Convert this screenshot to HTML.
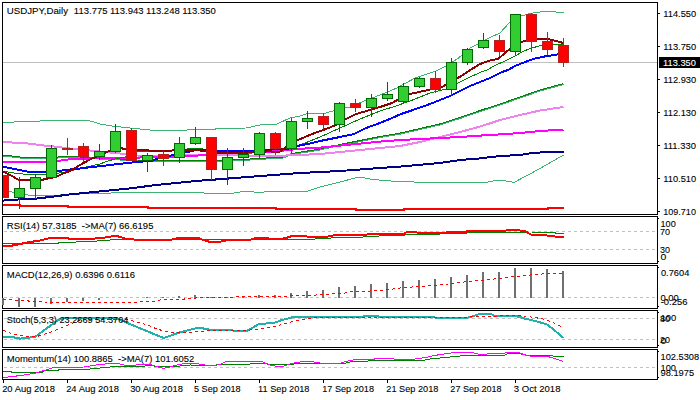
<!DOCTYPE html>
<html><head><meta charset="utf-8"><title>USDJPY Daily</title>
<style>
html,body{margin:0;padding:0;background:#fff;}
body{width:700px;height:400px;overflow:hidden;position:relative;font-family:"Liberation Sans",sans-serif;}
svg text{font-family:"Liberation Sans",sans-serif;}
</style></head><body>
<svg width="700" height="400" viewBox="0 0 700 400" style="position:absolute;left:0;top:0" shape-rendering="crispEdges">
<rect width="700" height="400" fill="#fff"/>
<defs><clipPath id="cm"><rect x="3" y="3" width="654.5" height="211"/></clipPath></defs>
<g clip-path="url(#cm)">
<line x1="3" x2="657" y1="62.5" y2="62.5" stroke="#c0c0c0" stroke-width="1"/>
<polyline points="3.0,122.4 20.0,121.8 40.0,121.0 58.0,120.0 86.0,120.0 92.0,121.5 100.0,124.0 112.0,126.0 125.0,127.5 140.0,129.0 160.0,131.0 182.0,130.6 196.0,129.0 206.0,129.6 222.0,128.6 246.0,128.0 260.0,125.0 276.0,124.4 290.0,118.0 300.0,116.0 307.0,113.6 325.0,113.4 331.0,111.5 336.0,110.0 345.0,107.5 350.0,107.5 356.0,104.5 364.0,101.0 380.0,95.0 398.0,87.6 404.0,84.0 416.0,77.6 436.0,71.0 446.0,66.0 458.0,58.4 470.0,48.0 478.0,44.0 484.0,40.5 490.0,37.5 500.0,33.0 510.0,22.0 521.0,15.5 525.0,15.0 529.0,13.7 535.0,12.7 543.0,11.5 555.0,11.5 557.0,12.5 563.5,12.5" fill="none" stroke="#3cb371" stroke-width="1" />
<polyline points="3.0,187.0 9.0,191.4 14.0,192.5 25.0,194.4 30.0,195.5 50.0,195.5 80.0,194.0 130.0,192.4 202.0,192.4 206.0,193.6 230.0,193.6 240.0,192.0 250.0,191.6 258.0,192.4 270.0,191.6 300.0,192.0 308.0,191.0 320.0,187.0 340.0,182.0 355.0,178.0 362.0,177.4 370.0,179.0 385.0,180.6 400.0,181.6 420.0,182.2 440.0,182.4 486.0,182.4 496.0,180.4 504.0,180.6 514.0,182.4 530.0,174.0 546.0,165.0 563.5,155.0" fill="none" stroke="#3cb371" stroke-width="1" />
<polyline points="3.0,205.0 19.5,205.0 19.5,206.0 67.5,206.0 67.5,207.0 147.5,207.0 147.5,208.0 275.5,208.0 275.5,209.0 355.5,209.0 355.5,210.0 403.5,210.0 403.5,209.0 547.5,209.0 547.5,208.0 564.0,208.0" fill="none" stroke="#ff0000" stroke-width="2" />
<polyline points="3.0,200.6 10.0,200.0 20.0,199.4 36.0,198.6 50.0,197.0 70.0,194.4 90.0,192.4 110.0,190.4 130.0,188.4 156.0,185.0 196.0,181.0 230.0,178.4 260.0,176.0 300.0,173.0 340.0,171.0 380.0,168.0 400.0,166.6 420.0,164.8 440.0,163.0 460.0,160.0 480.0,158.4 500.0,156.0 520.0,155.0 532.0,153.0 548.0,152.0 563.5,152.0" fill="none" stroke="#00008b" stroke-width="2" />
<polyline points="3.0,156.0 12.0,156.5 20.0,157.5 28.0,158.0 46.0,158.0 58.0,157.5 68.0,156.5 80.0,157.5 100.0,158.5 120.0,159.5 137.0,160.5 155.0,161.0 200.0,161.0 230.0,160.5 250.0,159.5 283.0,157.5 292.0,154.0 320.0,149.5 340.0,145.0 360.0,141.0 380.0,137.0 400.0,133.6 420.0,129.0 440.0,124.4 460.0,118.0 480.0,111.0 500.0,104.5 520.0,97.5 540.0,90.5 563.5,84.0" fill="none" stroke="#3cb371" stroke-width="2" />
<polyline points="3.0,155.5 12.0,156.0 20.0,157.0 28.0,157.5 46.0,157.5 58.0,157.0 68.0,156.0 80.0,157.0 100.0,158.0 120.0,159.0 137.0,160.0 155.0,160.5 200.0,160.5 230.0,160.0 250.0,159.0 283.0,157.0 292.0,153.5 320.0,149.0 340.0,144.5 360.0,140.5 380.0,136.5 400.0,133.1 420.0,128.5 440.0,123.9 460.0,117.5 480.0,110.5 500.0,104.0 520.0,97.0 540.0,90.0 563.5,83.5" fill="none" stroke="#008000" stroke-width="1" />
<polyline points="3.0,142.0 20.0,143.0 28.0,143.5 36.0,144.5 44.0,145.5 50.0,146.0 70.0,148.5 90.0,150.5 110.0,152.5 125.0,154.0 137.0,155.5 174.0,156.0 185.0,155.0 200.0,155.3 217.0,155.2 240.0,155.3 244.0,156.0 270.0,156.0 290.0,155.4 320.0,154.0 340.0,152.0 360.0,150.0 380.0,148.0 400.0,146.0 420.0,142.0 440.0,137.0 460.0,132.0 480.0,126.6 500.0,120.0 520.0,115.0 540.0,110.5 563.5,107.0" fill="none" stroke="#ee82ee" stroke-width="2" />
<polyline points="3.0,162.0 46.0,162.0 58.0,161.0 68.0,159.5 90.0,158.5 120.0,157.5 140.0,157.5 174.0,157.0 190.0,156.3 200.0,155.3 206.0,154.5 217.0,153.3 250.0,152.6 270.0,151.6 280.0,151.0 297.0,149.0 320.0,147.6 340.0,145.6 360.0,143.6 380.0,141.6 400.0,140.0 420.0,139.0 440.0,138.0 460.0,137.0 480.0,135.6 500.0,134.4 520.0,133.0 540.0,131.0 563.5,129.6" fill="none" stroke="#ff00ff" stroke-width="2" />
<polyline points="3.0,171.0 10.0,172.4 20.0,173.8 30.0,174.4 46.0,174.4 57.0,173.5 62.0,172.5 70.0,171.0 86.0,167.0 100.0,164.0 106.0,161.6 115.0,159.0 125.0,157.0 137.0,152.0 145.0,151.5 160.0,151.0 180.0,150.0 191.0,148.5 200.0,148.5 206.0,149.5 217.0,151.0 252.0,151.0 256.0,150.3 270.0,149.8 285.0,148.5 298.0,145.8 320.0,137.0 340.0,128.0 360.0,119.0 380.0,111.0 396.0,106.0 410.0,101.0 430.0,93.0 446.0,89.0 458.0,83.0 470.0,77.0 480.0,72.5 487.0,70.0 495.0,65.5 505.0,61.0 515.0,56.0 521.0,52.5 530.0,48.5 540.0,45.8 552.0,44.4 563.5,45.0" fill="none" stroke="#008000" stroke-width="1" />
<polyline points="3.0,166.6 14.0,169.0 28.0,171.7 36.0,172.0 46.0,172.0 57.0,171.0 64.0,170.3 70.0,169.5 80.0,168.5 97.0,166.5 110.0,165.0 118.0,164.0 130.0,162.7 140.0,161.7 152.0,161.0 155.0,159.5 158.0,158.5 170.0,156.0 174.0,154.5 185.0,152.5 190.0,151.5 196.0,150.0 206.0,150.5 217.0,151.0 252.0,151.0 256.0,150.3 270.0,149.5 286.0,149.3 297.0,146.0 310.0,143.5 320.0,141.0 340.0,137.0 354.0,134.0 366.0,128.0 380.0,123.0 392.0,118.0 400.0,114.4 410.0,111.0 430.0,104.0 450.0,96.0 470.0,86.0 490.0,78.0 502.0,72.0 508.0,70.0 515.0,66.0 525.0,62.0 535.0,58.5 544.0,56.6 558.0,54.4 563.5,54.0" fill="none" stroke="#0000ff" stroke-width="2" />
<polyline points="3.0,171.5 8.0,174.0 12.0,176.0 16.0,178.5 19.0,180.0 41.0,180.0 46.0,179.0 57.0,176.5 62.0,174.0 70.0,171.0 80.0,165.0 90.0,159.5 100.0,155.0 110.0,150.5 120.0,148.0 125.0,149.0 137.0,150.0 148.0,150.0 150.0,151.0 171.0,151.0 173.0,150.0 200.0,150.5 206.0,151.0 217.0,152.8 245.0,153.0 250.0,152.2 254.0,151.5 265.0,151.7 268.0,151.0 275.0,152.0 280.0,151.5 286.0,147.0 298.0,140.0 312.0,134.0 326.0,129.0 336.0,125.0 346.0,119.0 356.0,114.0 368.0,110.6 380.0,107.0 392.0,103.0 400.0,98.5 410.0,94.0 430.0,89.6 442.0,87.0 458.0,78.0 472.0,69.0 480.0,64.0 490.0,60.5 498.0,59.0 505.0,53.0 510.0,49.0 521.0,42.0 526.0,40.5 537.0,39.0 542.0,38.6 548.0,39.0 563.5,43.0" fill="none" stroke="#8b0000" stroke-width="2" />
<line x1="3.5" x2="3.5" y1="175.0" y2="198.0" stroke="#b22222" stroke-width="1"/>
<rect x="-1.50" y="175.50" width="10.00" height="22.00" fill="#ff0000" stroke="#b22222" stroke-width="1"/>
<line x1="19.5" x2="19.5" y1="177.0" y2="209.0" stroke="#006800" stroke-width="1"/>
<rect x="14.50" y="188.50" width="10.00" height="9.00" fill="#32cd32" stroke="#006800" stroke-width="1"/>
<line x1="35.5" x2="35.5" y1="174.0" y2="199.0" stroke="#006800" stroke-width="1"/>
<rect x="30.50" y="177.50" width="10.00" height="11.00" fill="#32cd32" stroke="#006800" stroke-width="1"/>
<line x1="51.5" x2="51.5" y1="145.0" y2="178.0" stroke="#006800" stroke-width="1"/>
<rect x="46.50" y="148.50" width="10.00" height="29.00" fill="#32cd32" stroke="#006800" stroke-width="1"/>
<line x1="67.5" x2="67.5" y1="138.0" y2="155.0" stroke="#b22222" stroke-width="1"/>
<rect x="62.0" y="148.0" width="11" height="2" fill="#b22222"/>
<line x1="83.5" x2="83.5" y1="143.0" y2="162.0" stroke="#b22222" stroke-width="1"/>
<rect x="78.50" y="146.50" width="10.00" height="10.00" fill="#ff0000" stroke="#b22222" stroke-width="1"/>
<line x1="99.5" x2="99.5" y1="144.0" y2="160.0" stroke="#006800" stroke-width="1"/>
<rect x="94.50" y="151.50" width="10.00" height="5.00" fill="#32cd32" stroke="#006800" stroke-width="1"/>
<line x1="115.5" x2="115.5" y1="124.0" y2="153.0" stroke="#006800" stroke-width="1"/>
<rect x="110.50" y="131.50" width="10.00" height="20.00" fill="#32cd32" stroke="#006800" stroke-width="1"/>
<line x1="131.5" x2="131.5" y1="128.0" y2="161.0" stroke="#b22222" stroke-width="1"/>
<rect x="126.50" y="130.50" width="10.00" height="30.00" fill="#ff0000" stroke="#b22222" stroke-width="1"/>
<line x1="147.5" x2="147.5" y1="153.0" y2="172.0" stroke="#006800" stroke-width="1"/>
<rect x="142.50" y="155.50" width="10.00" height="5.00" fill="#32cd32" stroke="#006800" stroke-width="1"/>
<line x1="163.5" x2="163.5" y1="151.0" y2="166.0" stroke="#b22222" stroke-width="1"/>
<rect x="158.50" y="154.50" width="10.00" height="4.00" fill="#ff0000" stroke="#b22222" stroke-width="1"/>
<line x1="179.5" x2="179.5" y1="137.0" y2="163.0" stroke="#006800" stroke-width="1"/>
<rect x="174.50" y="143.50" width="10.00" height="14.00" fill="#32cd32" stroke="#006800" stroke-width="1"/>
<line x1="195.5" x2="195.5" y1="127.0" y2="145.0" stroke="#006800" stroke-width="1"/>
<rect x="190.50" y="137.50" width="10.00" height="6.00" fill="#32cd32" stroke="#006800" stroke-width="1"/>
<line x1="211.5" x2="211.5" y1="137.0" y2="180.0" stroke="#b22222" stroke-width="1"/>
<rect x="206.50" y="137.50" width="10.00" height="32.00" fill="#ff0000" stroke="#b22222" stroke-width="1"/>
<line x1="227.5" x2="227.5" y1="148.0" y2="185.0" stroke="#006800" stroke-width="1"/>
<rect x="222.50" y="157.50" width="10.00" height="12.00" fill="#32cd32" stroke="#006800" stroke-width="1"/>
<line x1="243.5" x2="243.5" y1="148.0" y2="166.0" stroke="#006800" stroke-width="1"/>
<rect x="238.50" y="154.50" width="10.00" height="3.00" fill="#32cd32" stroke="#006800" stroke-width="1"/>
<line x1="259.5" x2="259.5" y1="132.0" y2="158.0" stroke="#006800" stroke-width="1"/>
<rect x="254.50" y="133.50" width="10.00" height="21.00" fill="#32cd32" stroke="#006800" stroke-width="1"/>
<line x1="275.5" x2="275.5" y1="132.0" y2="155.0" stroke="#b22222" stroke-width="1"/>
<rect x="270.50" y="133.50" width="10.00" height="15.00" fill="#ff0000" stroke="#b22222" stroke-width="1"/>
<line x1="291.5" x2="291.5" y1="118.0" y2="153.0" stroke="#006800" stroke-width="1"/>
<rect x="286.50" y="121.50" width="10.00" height="27.00" fill="#32cd32" stroke="#006800" stroke-width="1"/>
<line x1="307.5" x2="307.5" y1="111.0" y2="129.0" stroke="#006800" stroke-width="1"/>
<rect x="302.50" y="118.50" width="10.00" height="3.00" fill="#32cd32" stroke="#006800" stroke-width="1"/>
<line x1="323.5" x2="323.5" y1="113.0" y2="129.0" stroke="#b22222" stroke-width="1"/>
<rect x="318.50" y="116.50" width="10.00" height="8.00" fill="#ff0000" stroke="#b22222" stroke-width="1"/>
<line x1="339.5" x2="339.5" y1="102.0" y2="132.0" stroke="#006800" stroke-width="1"/>
<rect x="334.50" y="103.50" width="10.00" height="21.00" fill="#32cd32" stroke="#006800" stroke-width="1"/>
<line x1="355.5" x2="355.5" y1="99.0" y2="112.0" stroke="#b22222" stroke-width="1"/>
<rect x="350.50" y="103.50" width="10.00" height="4.00" fill="#ff0000" stroke="#b22222" stroke-width="1"/>
<line x1="371.5" x2="371.5" y1="94.0" y2="117.0" stroke="#006800" stroke-width="1"/>
<rect x="366.50" y="98.50" width="10.00" height="9.00" fill="#32cd32" stroke="#006800" stroke-width="1"/>
<line x1="387.5" x2="387.5" y1="82.0" y2="101.0" stroke="#006800" stroke-width="1"/>
<rect x="382.50" y="94.50" width="10.00" height="4.00" fill="#32cd32" stroke="#006800" stroke-width="1"/>
<line x1="403.5" x2="403.5" y1="83.0" y2="103.0" stroke="#006800" stroke-width="1"/>
<rect x="398.50" y="86.50" width="10.00" height="15.00" fill="#32cd32" stroke="#006800" stroke-width="1"/>
<line x1="419.5" x2="419.5" y1="77.0" y2="88.0" stroke="#006800" stroke-width="1"/>
<rect x="414.50" y="78.50" width="10.00" height="8.00" fill="#32cd32" stroke="#006800" stroke-width="1"/>
<line x1="435.5" x2="435.5" y1="71.0" y2="93.0" stroke="#b22222" stroke-width="1"/>
<rect x="430.50" y="78.50" width="10.00" height="11.00" fill="#ff0000" stroke="#b22222" stroke-width="1"/>
<line x1="451.5" x2="451.5" y1="58.0" y2="96.0" stroke="#006800" stroke-width="1"/>
<rect x="446.50" y="62.50" width="10.00" height="27.00" fill="#32cd32" stroke="#006800" stroke-width="1"/>
<line x1="467.5" x2="467.5" y1="48.0" y2="65.0" stroke="#006800" stroke-width="1"/>
<rect x="462.50" y="49.50" width="10.00" height="13.00" fill="#32cd32" stroke="#006800" stroke-width="1"/>
<line x1="483.5" x2="483.5" y1="33.0" y2="49.0" stroke="#006800" stroke-width="1"/>
<rect x="478.50" y="40.50" width="10.00" height="7.00" fill="#32cd32" stroke="#006800" stroke-width="1"/>
<line x1="499.5" x2="499.5" y1="35.0" y2="56.0" stroke="#b22222" stroke-width="1"/>
<rect x="494.50" y="40.50" width="10.00" height="11.00" fill="#ff0000" stroke="#b22222" stroke-width="1"/>
<line x1="515.5" x2="515.5" y1="14.0" y2="55.0" stroke="#006800" stroke-width="1"/>
<rect x="510.50" y="14.50" width="10.00" height="37.00" fill="#32cd32" stroke="#006800" stroke-width="1"/>
<line x1="531.5" x2="531.5" y1="13.0" y2="52.0" stroke="#b22222" stroke-width="1"/>
<rect x="526.50" y="14.50" width="10.00" height="27.00" fill="#ff0000" stroke="#b22222" stroke-width="1"/>
<line x1="547.5" x2="547.5" y1="32.0" y2="55.0" stroke="#b22222" stroke-width="1"/>
<rect x="542.50" y="41.50" width="10.00" height="8.00" fill="#ff0000" stroke="#b22222" stroke-width="1"/>
<line x1="563.5" x2="563.5" y1="38.0" y2="67.0" stroke="#b22222" stroke-width="1"/>
<rect x="558.50" y="45.50" width="10.00" height="17.00" fill="#ff0000" stroke="#b22222" stroke-width="1"/>
</g>
<rect x="2.5" y="2.5" width="655.0" height="212.0" fill="none" stroke="#000" stroke-width="1"/>
<rect x="2.5" y="216.5" width="655.0" height="47.0" fill="none" stroke="#000" stroke-width="1"/>
<rect x="2.5" y="265.5" width="655.0" height="43.0" fill="none" stroke="#000" stroke-width="1"/>
<rect x="2.5" y="310.5" width="655.0" height="37.0" fill="none" stroke="#000" stroke-width="1"/>
<rect x="2.5" y="349.5" width="655.0" height="30.0" fill="none" stroke="#000" stroke-width="1"/>
<line x1="3" x2="657" y1="231.5" y2="231.5" stroke="#c0c0c0" stroke-width="1" stroke-dasharray="3 3" stroke-dashoffset="5"/>
<line x1="3" x2="657" y1="249.5" y2="249.5" stroke="#c0c0c0" stroke-width="1" stroke-dasharray="3 3" stroke-dashoffset="5"/>
<polyline points="3.0,243.5 58.0,243.5 59.0,242.5 90.0,241.6 110.0,240.0 128.0,239.4 170.0,240.0 270.0,239.4 314.0,239.4 316.0,238.6 330.0,238.4 332.0,237.4 362.0,237.2 364.0,236.6 378.0,236.4 380.0,235.6 400.0,235.4 410.0,234.6 460.0,233.6 474.0,232.4 530.0,232.0 555.0,232.2 556.0,233.4 563.5,233.4" fill="none" stroke="#008000" stroke-width="1" />
<polyline points="3.0,246.0 10.0,246.0 20.0,244.0 30.0,242.0 40.0,240.6 52.0,237.6 66.0,237.6 70.0,239.0 90.0,239.0 104.0,237.6 112.0,236.4 118.0,236.4 128.0,239.4 140.0,239.6 170.0,240.0 180.0,237.6 198.0,237.6 202.0,239.4 210.0,242.0 219.0,242.0 228.0,240.0 250.0,240.0 256.0,237.6 268.0,238.0 270.0,239.0 280.0,239.0 286.0,238.0 292.0,236.0 306.0,236.0 308.0,237.0 316.0,237.4 330.0,236.4 332.0,235.6 340.0,235.0 362.0,235.0 372.0,234.0 404.0,234.0 406.0,232.4 426.0,232.6 428.0,233.4 444.0,233.2 446.0,232.4 466.0,232.0 468.0,230.6 490.0,230.8 492.0,231.4 504.0,231.4 506.0,230.6 510.0,229.5 518.0,229.5 520.0,230.6 526.0,231.6 530.0,234.0 532.0,235.0 546.0,235.0 548.0,236.0 554.0,236.0 556.0,237.0 563.5,237.0" fill="none" stroke="#ff0000" stroke-width="2" />
<line x1="3" x2="657" y1="297.5" y2="297.5" stroke="#c0c0c0" stroke-width="1" stroke-dasharray="3 3" stroke-dashoffset="5"/>
<rect x="2.0" y="297.5" width="2" height="7.5" fill="#707070"/>
<rect x="18.0" y="297.5" width="2" height="9.5" fill="#707070"/>
<rect x="34.0" y="297.5" width="2" height="9.5" fill="#707070"/>
<rect x="50.0" y="297.5" width="2" height="6.5" fill="#707070"/>
<rect x="66.0" y="297.5" width="2" height="4.5" fill="#707070"/>
<rect x="82.0" y="297.5" width="2" height="3.9" fill="#707070"/>
<rect x="98.0" y="297.5" width="2" height="2.1" fill="#707070"/>
<rect x="114.0" y="297.5" width="2" height="0.9" fill="#707070"/>
<rect x="146.0" y="297.2" width="2" height="0.3" fill="#707070"/>
<rect x="162.0" y="297.0" width="2" height="0.5" fill="#707070"/>
<rect x="178.0" y="296.0" width="2" height="1.5" fill="#707070"/>
<rect x="194.0" y="295.4" width="2" height="2.1" fill="#707070"/>
<rect x="210.0" y="296.8" width="2" height="0.7" fill="#707070"/>
<rect x="226.0" y="297.0" width="2" height="0.5" fill="#707070"/>
<rect x="242.0" y="296.6" width="2" height="0.9" fill="#707070"/>
<rect x="258.0" y="295.4" width="2" height="2.1" fill="#707070"/>
<rect x="274.0" y="295.4" width="2" height="2.1" fill="#707070"/>
<rect x="290.0" y="293.0" width="2" height="4.5" fill="#707070"/>
<rect x="306.0" y="291.0" width="2" height="6.5" fill="#707070"/>
<rect x="322.0" y="290.0" width="2" height="7.5" fill="#707070"/>
<rect x="338.0" y="287.0" width="2" height="10.5" fill="#707070"/>
<rect x="354.0" y="286.0" width="2" height="11.5" fill="#707070"/>
<rect x="370.0" y="284.0" width="2" height="13.5" fill="#707070"/>
<rect x="386.0" y="283.0" width="2" height="14.5" fill="#707070"/>
<rect x="402.0" y="281.0" width="2" height="16.5" fill="#707070"/>
<rect x="418.0" y="280.0" width="2" height="17.5" fill="#707070"/>
<rect x="434.0" y="279.0" width="2" height="18.5" fill="#707070"/>
<rect x="450.0" y="277.0" width="2" height="20.5" fill="#707070"/>
<rect x="466.0" y="275.0" width="2" height="22.5" fill="#707070"/>
<rect x="482.0" y="272.0" width="2" height="25.5" fill="#707070"/>
<rect x="498.0" y="272.0" width="2" height="25.5" fill="#707070"/>
<rect x="514.0" y="268.0" width="2" height="29.5" fill="#707070"/>
<rect x="530.0" y="268.0" width="2" height="29.5" fill="#707070"/>
<rect x="546.0" y="269.0" width="2" height="28.5" fill="#707070"/>
<rect x="562.0" y="271.0" width="2" height="26.5" fill="#707070"/>
<polyline points="3.0,299.5 12.0,299.5 15.0,300.5 27.0,300.5 30.0,301.5 44.0,301.5 46.0,302.5 76.0,302.5 84.0,303.0 96.0,302.6 140.0,302.0 154.0,301.6 160.0,300.0 180.0,299.4 196.0,298.0 210.0,297.4 230.0,297.4 240.0,296.4 270.0,296.4 290.0,296.0 310.0,295.4 330.0,294.0 345.0,293.0 350.0,292.0 370.0,291.0 380.0,290.4 390.0,289.4 400.0,288.0 420.0,286.4 440.0,285.0 460.0,282.4 480.0,280.4 500.0,278.4 510.0,277.0 520.0,276.0 530.0,275.0 547.0,273.6 563.5,273.4" fill="none" stroke="#ff0000" stroke-width="1" stroke-dasharray="3 3"/>
<line x1="3" x2="657" y1="318.5" y2="318.5" stroke="#c0c0c0" stroke-width="1" stroke-dasharray="3 3" stroke-dashoffset="5"/>
<line x1="3" x2="657" y1="339.5" y2="339.5" stroke="#c0c0c0" stroke-width="1" stroke-dasharray="3 3" stroke-dashoffset="5"/>
<polyline points="3.0,336.6 12.0,337.0 20.0,338.6 35.0,337.0 58.0,320.0 64.0,318.0 115.5,318.0 163.5,338.0 179.5,332.5 195.5,328.4 203.0,328.4 211.0,330.0 227.0,330.0 243.0,331.4 246.0,331.4 259.0,324.0 274.0,323.0 282.0,320.0 292.0,317.4 362.0,317.4 364.0,316.0 378.0,316.0 380.0,317.4 435.0,317.4 437.0,318.4 465.0,318.4 475.0,315.6 478.0,314.4 492.0,314.4 494.0,316.0 515.0,316.0 520.0,317.0 524.0,318.4 531.0,320.0 540.0,322.4 547.0,324.4 553.0,329.0 563.5,338.0" fill="none" stroke="#20b2aa" stroke-width="2" />
<polyline points="3.0,330.4 10.0,333.0 20.0,335.6 35.0,337.0 40.0,335.6 52.0,331.6 68.0,325.0 76.0,321.6 84.0,319.4 125.0,319.6 131.5,320.5 141.0,323.0 147.5,325.0 153.0,327.5 163.5,331.0 172.0,332.5 180.0,333.0 200.0,331.6 211.0,330.0 250.0,330.0 259.0,329.0 275.0,326.4 283.0,324.0 291.0,322.0 300.0,320.0 310.0,318.2 320.0,317.6 400.0,317.4 420.0,317.4 436.0,318.0 470.0,317.0 480.0,316.4 500.0,316.0 520.0,315.5 531.0,317.0 540.0,318.4 547.0,320.0 555.0,323.6 563.5,327.6" fill="none" stroke="#ff0000" stroke-width="1" stroke-dasharray="3 3"/>
<line x1="3" x2="657" y1="367.5" y2="367.5" stroke="#c0c0c0" stroke-width="1" stroke-dasharray="3 3" stroke-dashoffset="5"/>
<polyline points="3.0,371.0 10.0,371.0 12.0,372.4 42.0,372.4 44.0,371.0 58.0,370.4 60.0,369.0 90.0,369.0 100.0,368.0 110.0,367.0 130.0,366.4 140.0,366.4 150.0,365.6 163.0,367.0 180.0,366.0 190.0,365.0 210.0,365.4 230.0,364.0 250.0,364.0 260.0,363.0 270.0,364.4 290.0,364.4 300.0,363.4 345.0,363.4 350.0,362.0 362.0,361.4 375.0,360.6 380.0,360.0 425.0,360.0 430.0,359.0 440.0,358.0 450.0,357.0 460.0,356.0 475.0,355.0 505.0,355.0 508.0,353.7 520.0,353.7 525.0,355.1 547.0,355.1 555.0,356.3 563.5,356.3" fill="none" stroke="#008000" stroke-width="1" />
<polyline points="3.0,377.6 20.0,375.6 36.0,373.0 52.0,368.0 68.0,367.4 84.0,367.0 100.0,364.4 112.0,363.4 118.0,363.4 124.0,365.0 130.0,366.0 136.0,365.0 150.0,364.4 154.0,365.6 163.0,368.4 170.0,367.0 179.0,364.4 186.0,363.6 195.0,363.4 205.0,365.0 211.0,366.0 220.0,364.4 227.0,361.0 243.0,362.0 250.0,361.6 259.0,361.0 264.0,362.4 270.0,365.0 275.0,366.0 280.0,366.4 284.0,366.0 291.0,363.6 300.0,362.0 307.0,361.0 312.0,361.6 316.0,362.4 323.0,363.4 340.0,363.4 345.0,361.6 355.0,359.6 371.0,359.4 380.0,358.4 390.0,358.6 400.0,359.6 410.0,359.6 420.0,358.4 428.0,357.0 435.0,355.4 444.0,354.0 451.0,353.0 460.0,352.4 472.0,352.4 475.0,353.4 480.0,354.4 495.0,353.6 505.0,353.0 510.0,352.3 518.0,352.3 525.0,354.9 531.0,356.3 547.0,356.3 555.0,358.6 563.5,361.4" fill="none" stroke="#ff00ff" stroke-width="1" />
<line x1="658" x2="660" y1="13.5" y2="13.5" stroke="#000" stroke-width="1"/>
<line x1="658" x2="660" y1="46.5" y2="46.5" stroke="#000" stroke-width="1"/>
<line x1="658" x2="660" y1="79.5" y2="79.5" stroke="#000" stroke-width="1"/>
<line x1="658" x2="660" y1="112.5" y2="112.5" stroke="#000" stroke-width="1"/>
<line x1="658" x2="660" y1="145.5" y2="145.5" stroke="#000" stroke-width="1"/>
<line x1="658" x2="660" y1="178.5" y2="178.5" stroke="#000" stroke-width="1"/>
<line x1="658" x2="660" y1="211.5" y2="211.5" stroke="#000" stroke-width="1"/>
<line x1="3.5" x2="3.5" y1="380" y2="383" stroke="#000" stroke-width="1"/>
<line x1="67.5" x2="67.5" y1="380" y2="383" stroke="#000" stroke-width="1"/>
<line x1="131.5" x2="131.5" y1="380" y2="383" stroke="#000" stroke-width="1"/>
<line x1="195.5" x2="195.5" y1="380" y2="383" stroke="#000" stroke-width="1"/>
<line x1="259.5" x2="259.5" y1="380" y2="383" stroke="#000" stroke-width="1"/>
<line x1="323.5" x2="323.5" y1="380" y2="383" stroke="#000" stroke-width="1"/>
<line x1="387.5" x2="387.5" y1="380" y2="383" stroke="#000" stroke-width="1"/>
<line x1="451.5" x2="451.5" y1="380" y2="383" stroke="#000" stroke-width="1"/>
<line x1="515.5" x2="515.5" y1="380" y2="383" stroke="#000" stroke-width="1"/>
<rect x="658" y="218.0" width="1" height="1" fill="#000"/>
<rect x="658" y="261.0" width="1" height="1" fill="#000"/>
<rect x="658" y="267.0" width="1" height="1" fill="#000"/>
<rect x="658" y="306.0" width="1" height="1" fill="#000"/>
<rect x="658" y="312.0" width="1" height="1" fill="#000"/>
<rect x="658" y="345.0" width="1" height="1" fill="#000"/>
<rect x="658" y="351.0" width="1" height="1" fill="#000"/>
<rect x="658" y="377.0" width="1" height="1" fill="#000"/>
<rect x="659" y="57" width="41" height="11" fill="#000"/>
<g font-family="Liberation Sans, sans-serif" font-size="9.70px" shape-rendering="auto">
<text xml:space="preserve" transform="translate(6.81,14.00) scale(0.9991,1)" fill="#000" stroke="#000" stroke-width="0.1">USDJPY,Daily</text>
<text xml:space="preserve" transform="translate(73.86,14.00) scale(0.9800,1)" fill="#000" stroke="#000" stroke-width="0.1">113.775</text>
<text xml:space="preserve" transform="translate(109.96,14.00) scale(0.9815,1)" fill="#000" stroke="#000" stroke-width="0.1">113.943</text>
<text xml:space="preserve" transform="translate(146.06,14.00) scale(0.9812,1)" fill="#000" stroke="#000" stroke-width="0.1">113.248</text>
<text xml:space="preserve" transform="translate(182.16,14.00) scale(0.9827,1)" fill="#000" stroke="#000" stroke-width="0.1">113.350</text>
<text xml:space="preserve" transform="translate(6.80,229.00) scale(0.9817,1)" fill="#000" stroke="#000" stroke-width="0.1">RSI(14) 57.3185  -&gt;MA(7) 66.6195</text>
<text xml:space="preserve" transform="translate(6.81,278.00) scale(0.9757,1)" fill="#000" stroke="#000" stroke-width="0.1">MACD(12,26,9) 0.6396 0.6116</text>
<text xml:space="preserve" transform="translate(6.84,323.00) scale(0.9495,1)" fill="#000" stroke="#000" stroke-width="0.1">Stoch(5,3,3) 23.2669 54.3704</text>
<text xml:space="preserve" transform="translate(6.81,362.00) scale(0.9737,1)" fill="#000" stroke="#000" stroke-width="0.1">Momentum(14) 100.8865  -&gt;MA(7) 101.6052</text>
<text xml:space="preserve" transform="translate(663.28,17.00) scale(0.9585,1)" fill="#000" stroke="#000" stroke-width="0.1">114.550</text>
<text xml:space="preserve" transform="translate(663.28,50.00) scale(0.9585,1)" fill="#000" stroke="#000" stroke-width="0.1">113.750</text>
<text xml:space="preserve" transform="translate(663.28,83.00) scale(0.9585,1)" fill="#000" stroke="#000" stroke-width="0.1">112.930</text>
<text xml:space="preserve" transform="translate(663.28,116.00) scale(0.9585,1)" fill="#000" stroke="#000" stroke-width="0.1">112.130</text>
<text xml:space="preserve" transform="translate(663.27,149.00) scale(0.9713,1)" fill="#000" stroke="#000" stroke-width="0.1">111.330</text>
<text xml:space="preserve" transform="translate(663.28,182.00) scale(0.9585,1)" fill="#000" stroke="#000" stroke-width="0.1">110.510</text>
<text xml:space="preserve" transform="translate(663.30,215.00) scale(0.9309,1)" fill="#000" stroke="#000" stroke-width="0.1">109.710</text>
<text xml:space="preserve" transform="translate(663.08,66.00) scale(0.9554,1)" fill="#fff" stroke="#fff" stroke-width="0.1">113.350</text>
<text xml:space="preserve" transform="translate(660.49,227.00) scale(0.9433,1)" fill="#000" stroke="#000" stroke-width="0.1">100</text>
<text xml:space="preserve" transform="translate(659.97,235.00) scale(0.9268,1)" fill="#000" stroke="#000" stroke-width="0.1">70</text>
<text xml:space="preserve" transform="translate(659.95,253.00) scale(0.9282,1)" fill="#000" stroke="#000" stroke-width="0.1">30</text>
<text xml:space="preserve" transform="translate(660.38,260.00) scale(1.0808,1)" fill="#000" stroke="#000" stroke-width="0.1">0</text>
<text xml:space="preserve" transform="translate(660.93,276.00) scale(0.9589,1)" fill="#000" stroke="#000" stroke-width="0.1">0.7604</text>
<text xml:space="preserve" transform="translate(660.42,301.00) scale(0.9714,1)" fill="#000" stroke="#000" stroke-width="0.1">0.00</text>
<text xml:space="preserve" transform="translate(660.67,305.00) scale(0.9745,1)" fill="#000" stroke="#000" stroke-width="0.1">-0.256</text>
<text xml:space="preserve" transform="translate(660.47,321.00) scale(0.9698,1)" fill="#000" stroke="#000" stroke-width="0.1">100</text>
<text xml:space="preserve" transform="translate(660.05,322.00) scale(0.9380,1)" fill="#000" stroke="#000" stroke-width="0.1">80</text>
<text xml:space="preserve" transform="translate(660.06,343.00) scale(0.9179,1)" fill="#000" stroke="#000" stroke-width="0.1">20</text>
<text xml:space="preserve" transform="translate(660.38,344.00) scale(1.0808,1)" fill="#000" stroke="#000" stroke-width="0.1">0</text>
<text xml:space="preserve" transform="translate(660.48,360.00) scale(0.9560,1)" fill="#000" stroke="#000" stroke-width="0.1">102.5308</text>
<text xml:space="preserve" transform="translate(660.48,371.00) scale(0.9566,1)" fill="#000" stroke="#000" stroke-width="0.1">100</text>
<text xml:space="preserve" transform="translate(660.44,376.00) scale(0.9645,1)" fill="#000" stroke="#000" stroke-width="0.1">98.1975</text>
<text xml:space="preserve" transform="translate(2.14,392.00) scale(0.9700,1)" fill="#000" stroke="#000" stroke-width="0.1">20 Aug 2018</text>
<text xml:space="preserve" transform="translate(66.14,392.00) scale(0.9700,1)" fill="#000" stroke="#000" stroke-width="0.1">24 Aug 2018</text>
<text xml:space="preserve" transform="translate(130.13,392.00) scale(0.9702,1)" fill="#000" stroke="#000" stroke-width="0.1">30 Aug 2018</text>
<text xml:space="preserve" transform="translate(193.96,392.00) scale(0.9419,1)" fill="#000" stroke="#000" stroke-width="0.1">5 Sep 2018</text>
<text xml:space="preserve" transform="translate(258.09,392.00) scale(0.9470,1)" fill="#000" stroke="#000" stroke-width="0.1">11 Sep 2018</text>
<text xml:space="preserve" transform="translate(322.29,392.00) scale(0.9408,1)" fill="#000" stroke="#000" stroke-width="0.1">17 Sep 2018</text>
<text xml:space="preserve" transform="translate(386.35,392.00) scale(0.9470,1)" fill="#000" stroke="#000" stroke-width="0.1">21 Sep 2018</text>
<text xml:space="preserve" transform="translate(450.36,392.00) scale(0.9322,1)" fill="#000" stroke="#000" stroke-width="0.1">27 Sep 2018</text>
<text xml:space="preserve" transform="translate(513.82,392.00) scale(0.9851,1)" fill="#000" stroke="#000" stroke-width="0.1">3 Oct 2018</text>
</g>
</svg>
</body></html>
